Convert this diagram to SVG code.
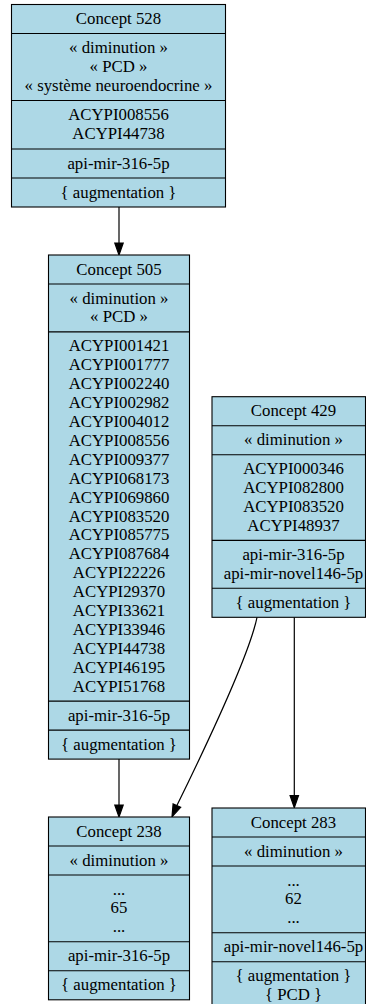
<svg xmlns="http://www.w3.org/2000/svg" width="366" height="1004" viewBox="0 0 366 1004">
<defs>
<style>
.box{fill:#add8e6;stroke:#000;stroke-width:1.1}
.div{stroke:#000;stroke-width:1.1}
.t text{font-size:16.8px;fill:#000;text-anchor:middle}
.edge{fill:none;stroke:#000;stroke-width:1.2}
.head{fill:#000;stroke:#000;stroke-width:1.2}
</style>
</defs>
<rect width="366" height="1004" fill="#fff"/>
<g id="connectors">
<path class="edge" d="M119,207 L119,243"/>
<polygon class="head" points="114.8,243 123.2,243 119,255"/>
<path class="edge" d="M119,759.1 L119,805"/>
<polygon class="head" points="114.8,805 123.2,805 119,817"/>
<path class="edge" d="M257,617.3 C250,652 210,738 176.9,805.6"/>
<polygon class="head" points="180.7,807.3 173.1,803.9 172,816.8"/>
<path class="edge" d="M294.3,617.3 L294.3,795.7"/>
<polygon class="head" points="290.1,795.7 298.5,795.7 294.3,807.7"/>
</g>
<g font-family="Liberation Serif, Times New Roman, Times, serif">
<g id="node528" class="t">
<rect class="box" x="11.5" y="4.5" width="214" height="202.5"/>
<line class="div" x1="11.5" y1="33.5" x2="225.5" y2="33.5"/>
<line class="div" x1="11.5" y1="100.5" x2="225.5" y2="100.5"/>
<line class="div" x1="11.5" y1="149" x2="225.5" y2="149"/>
<line class="div" x1="11.5" y1="178" x2="225.5" y2="178"/>
<text x="118.5" y="24" font-family="Liberation Serif">Concept 528</text>
<text x="118.5" y="53.1">« diminution »</text>
<text x="118.5" y="72">« PCD »</text>
<text x="118.5" y="90.9">« système neuroendocrine »</text>
<text x="118.5" y="120.3">ACYPI008556</text>
<text x="118.5" y="139.2">ACYPI44738</text>
<text x="118.5" y="168.5">api-mir-316-5p</text>
<text x="118.5" y="197.5">{ augmentation }</text>
</g>
<g id="node505" class="t">
<rect class="box" x="48.5" y="255" width="141" height="504.1"/>
<line class="div" x1="48.5" y1="284" x2="189.5" y2="284"/>
<line class="div" x1="48.5" y1="331.9" x2="189.5" y2="331.9"/>
<line class="div" x1="48.5" y1="701.1" x2="189.5" y2="701.1"/>
<line class="div" x1="48.5" y1="730.1" x2="189.5" y2="730.1"/>
<text x="119" y="274.5">Concept 505</text>
<text x="119" y="303.5">« diminution »</text>
<text x="119" y="322.4">« PCD »</text>
<text x="119" y="351.4">ACYPI001421</text>
<text x="119" y="370.3">ACYPI001777</text>
<text x="119" y="389.2">ACYPI002240</text>
<text x="119" y="408.1">ACYPI002982</text>
<text x="119" y="427">ACYPI004012</text>
<text x="119" y="445.9">ACYPI008556</text>
<text x="119" y="464.8">ACYPI009377</text>
<text x="119" y="483.7">ACYPI068173</text>
<text x="119" y="502.6">ACYPI069860</text>
<text x="119" y="521.5">ACYPI083520</text>
<text x="119" y="540.4">ACYPI085775</text>
<text x="119" y="559.3">ACYPI087684</text>
<text x="119" y="578.2">ACYPI22226</text>
<text x="119" y="597.1">ACYPI29370</text>
<text x="119" y="616">ACYPI33621</text>
<text x="119" y="634.9">ACYPI33946</text>
<text x="119" y="653.8">ACYPI44738</text>
<text x="119" y="672.7">ACYPI46195</text>
<text x="119" y="691.6">ACYPI51768</text>
<text x="119" y="720.6">api-mir-316-5p</text>
<text x="119" y="749.6">{ augmentation }</text>
</g>
<g id="node429" class="t">
<rect class="box" x="212" y="396.7" width="153.5" height="220.6"/>
<line class="div" x1="212" y1="425.7" x2="365.5" y2="425.7"/>
<line class="div" x1="212" y1="454.7" x2="365.5" y2="454.7"/>
<line class="div" x1="212" y1="540.4" x2="365.5" y2="540.4"/>
<line class="div" x1="212" y1="588.3" x2="365.5" y2="588.3"/>
<text x="293.5" y="416.2">Concept 429</text>
<text x="293.5" y="445.2">« diminution »</text>
<text x="293.5" y="474.2">ACYPI000346</text>
<text x="293.5" y="493.1">ACYPI082800</text>
<text x="293.5" y="512">ACYPI083520</text>
<text x="293.5" y="530.9">ACYPI48937</text>
<text x="293.5" y="559.9">api-mir-316-5p</text>
<text x="293.5" y="578.8">api-mir-novel146-5p</text>
<text x="293.5" y="607.8">{ augmentation }</text>
</g>
<g id="node238" class="t">
<rect class="box" x="48.5" y="817" width="141" height="182.8"/>
<line class="div" x1="48.5" y1="846" x2="189.5" y2="846"/>
<line class="div" x1="48.5" y1="875" x2="189.5" y2="875"/>
<line class="div" x1="48.5" y1="941.8" x2="189.5" y2="941.8"/>
<line class="div" x1="48.5" y1="970.8" x2="189.5" y2="970.8"/>
<text x="119" y="836.5">Concept 238</text>
<text x="119" y="865.5">« diminution »</text>
<text x="119" y="894.5">...</text>
<text x="119" y="913.4">65</text>
<text x="119" y="932.3">...</text>
<text x="119" y="961.3">api-mir-316-5p</text>
<text x="119" y="990.3">{ augmentation }</text>
</g>
<g id="node283" class="t">
<rect class="box" x="212" y="808" width="153.5" height="202"/>
<line class="div" x1="212" y1="837" x2="365.5" y2="837"/>
<line class="div" x1="212" y1="866" x2="365.5" y2="866"/>
<line class="div" x1="212" y1="932.8" x2="365.5" y2="932.8"/>
<line class="div" x1="212" y1="961.8" x2="365.5" y2="961.8"/>
<text x="293.5" y="827.5">Concept 283</text>
<text x="293.5" y="856.5">« diminution »</text>
<text x="293.5" y="885.5">...</text>
<text x="293.5" y="904.4">62</text>
<text x="293.5" y="923.3">...</text>
<text x="293.5" y="952.3">api-mir-novel146-5p</text>
<text x="293.5" y="981.3">{ augmentation }</text>
<text x="293.5" y="1000.2">{ PCD }</text>
</g>
</g>
</svg>
